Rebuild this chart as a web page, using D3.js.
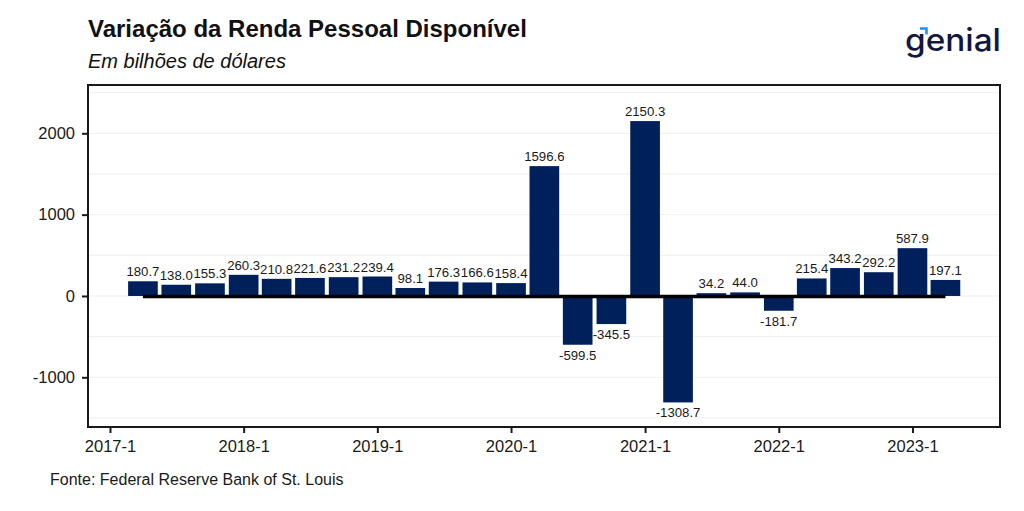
<!DOCTYPE html>
<html>
<head>
<meta charset="utf-8">
<script src="https://cdn.jsdelivr.net/npm/d3@7"></script>
<style>
  html, body { margin: 0; padding: 0; background: #fff; }
  svg { display: block; font-family: "Liberation Sans", Arial, sans-serif; }
</style>
</head>
<body>
<svg id="chart" width="1024" height="511"></svg>
<script>
// ---- data ----
const quarters = ["2017-2","2017-3","2017-4",
  "2018-1","2018-2","2018-3","2018-4",
  "2019-1","2019-2","2019-3","2019-4",
  "2020-1","2020-2","2020-3","2020-4",
  "2021-1","2021-2","2021-3","2021-4",
  "2022-1","2022-2","2022-3","2022-4",
  "2023-1","2023-2"];
const values = [180.7, 138.0, 155.3,
  260.3, 210.8, 221.6, 231.2,
  239.4, 98.1, 176.3, 166.6,
  158.4, 1596.6, -599.5, -345.5,
  2150.3, -1308.7, 34.2, 44.0,
  -181.7, 215.4, 343.2, 292.2,
  587.9, 197.1];
const xTickLabels = ["2017-1","2018-1","2019-1","2020-1","2021-1","2022-1","2023-1"];
const yTickValues = [-1000, 0, 1000, 2000];
const gridValues = [-1500, -1000, -500, 0, 500, 1000, 1500, 2000, 2500];

const titleText = "Variação da Renda Pessoal Disponível";
const subtitleText = "Em bilhões de dólares";
const captionText = "Fonte: Federal Reserve Bank of St. Louis";

// ---- helpers ----
const qToDate = q => {
  const [y, n] = q.split("-").map(Number);
  return new Date(Date.UTC(y, (n - 1) * 3, 1));
};
const data = quarters.map((q, i) => ({ q, date: qToDate(q), value: values[i] }));
const hyph = s => s.replace("\u2212", "-");

// ---- layout ----
const panel = { left: 88, right: 1000, top: 85, bottom: 427 };
const svg = d3.select("#chart");

const x = d3.scaleUtc()
  .domain([new Date(Date.UTC(2016, 10, 2)), new Date(Date.UTC(2023, 7, 28))])
  .range([panel.left, panel.right]);
const y = d3.scaleLinear()
  .domain([-1611, 2594])
  .range([panel.bottom, panel.top]);

const barColor = "#00205b";
const fmt = v => hyph(d3.format(".1f")(v));

// gridlines
svg.append("g").selectAll("line").data(gridValues).join("line")
  .attr("x1", panel.left).attr("x2", panel.right)
  .attr("y1", d => y(d)).attr("y2", d => y(d))
  .attr("stroke", "#efefef").attr("stroke-width", 1);

// bars
const qWidth = x(qToDate("2018-2")) - x(qToDate("2018-1"));
const bw = qWidth * 0.9;
svg.append("g").selectAll("rect").data(data).join("rect")
  .attr("x", d => x(d.date) - bw / 2)
  .attr("width", bw)
  .attr("y", d => Math.min(y(d.value), y(0)))
  .attr("height", d => Math.abs(y(d.value) - y(0)))
  .attr("fill", barColor);

// zero line
svg.append("line")
  .attr("x1", x(data[0].date)).attr("x2", x(data[data.length - 1].date))
  .attr("y1", y(0) + 0.5).attr("y2", y(0) + 0.5)
  .attr("stroke", "#000").attr("stroke-width", 3.5);

// value labels
svg.append("g").selectAll("text").data(data).join("text")
  .attr("x", d => x(d.date))
  .attr("y", d => d.value >= 0 ? y(d.value) - 5 : y(d.value) + 15)
  .attr("text-anchor", "middle")
  .attr("font-size", 13.2)
  .attr("fill", "#1a1a1a")
  .text(d => fmt(d.value));

// panel border
svg.append("rect")
  .attr("x", panel.left).attr("y", panel.top)
  .attr("width", panel.right - panel.left).attr("height", panel.bottom - panel.top)
  .attr("fill", "none").attr("stroke", "#1a1a1a").attr("stroke-width", 2);

// y axis
const yAxis = svg.append("g")
  .attr("transform", `translate(${panel.left},0)`)
  .call(d3.axisLeft(y).tickValues(yTickValues).tickFormat(d => hyph(d3.format("d")(d))).tickSize(6).tickPadding(7));
yAxis.select(".domain").remove();
yAxis.selectAll(".tick line").attr("stroke", "#1a1a1a").attr("stroke-width", 2);
yAxis.selectAll(".tick text").attr("font-size", 16.5).attr("fill", "#1a1a1a")
  .attr("font-family", "'Liberation Sans', Arial, sans-serif");

// x axis
const xAxis = svg.append("g")
  .attr("transform", `translate(0,${panel.bottom})`)
  .call(d3.axisBottom(x)
    .tickValues(xTickLabels.map(qToDate))
    .tickFormat((d, i) => xTickLabels[i])
    .tickSize(6).tickPadding(7));
xAxis.select(".domain").remove();
xAxis.selectAll(".tick line").attr("stroke", "#1a1a1a").attr("stroke-width", 2);
xAxis.selectAll(".tick text").attr("font-size", 16.5).attr("fill", "#1a1a1a")
  .attr("font-family", "'Liberation Sans', Arial, sans-serif");

// titles
svg.append("text").attr("x", 88).attr("y", 37)
  .attr("font-size", 24).attr("font-weight", "bold").attr("fill", "#111")
  .text(titleText);
svg.append("text").attr("x", 88).attr("y", 68)
  .attr("font-size", 20).attr("font-style", "italic").attr("fill", "#111")
  .text(subtitleText);

// caption
svg.append("text").attr("x", 50).attr("y", 485)
  .attr("font-size", 16).attr("fill", "#1a1a1a")
  .text(captionText);

// logo
const logo = svg.append("g");
logo.append("text").attr("x", 905).attr("y", 51)
  .attr("font-family", "Inter, 'Noto Sans', sans-serif")
  .attr("font-size", 31).attr("font-weight", 500)
  .attr("fill", "#14173d")
  .attr("textLength", 96).attr("lengthAdjust", "spacingAndGlyphs")
  .text("genial");
logo.append("path")
  .attr("d", "M920,28.5 L926.5,28.5 L926.5,34.5")
  .attr("fill", "none").attr("stroke", "#1e8ff5").attr("stroke-width", 2.5);
</script>
</body>
</html>
